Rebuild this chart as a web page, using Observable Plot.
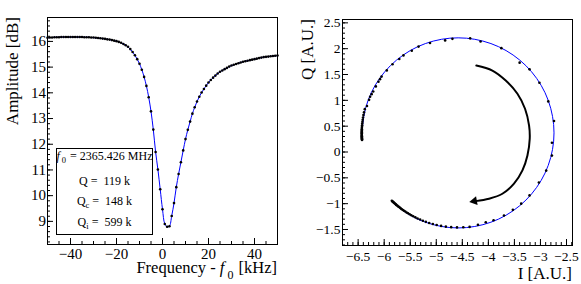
<!DOCTYPE html>
<html><head><meta charset="utf-8">
<script src="https://cdn.jsdelivr.net/npm/d3@7"></script>
<script src="https://cdn.jsdelivr.net/npm/@observablehq/plot@0.6"></script>
<style>
body{margin:0;background:#fff;}
#wrap{position:relative;width:581px;height:284px;display:flex;background:#fff;}
#wrap svg{display:block;}
</style></head><body><div id="wrap"></div>
<script>
// ---------- data ----------
const freq = [-50,-49,-48,-47,-46,-45,-44,-43,-42,-41,-40,-39,-38,-37,-36,-35,-34,-33,-32,-31,-30,-29,-28,-27,-26,-25,-24,-23,-22,-21,-20,-19,-18,-17,-16,-15,-14,-13,-12,-11,-10,-9,-8,-7,-6,-5,-4,-3,-2,-1,0,1,2,3,4,5,6,7,8,9,10,11,12,13,14,15,16,17,18,19,20,21,22,23,24,25,26,27,28,29,30,31,32,33,34,35,36,37,38,39,40,41,42,43,44,45,46,47,48,49,50];
const amplitude = [16.14,16.15,16.15,16.16,16.16,16.16,16.17,16.17,16.17,16.17,16.17,16.17,16.17,16.17,16.17,16.17,16.16,16.16,16.16,16.15,16.15,16.14,16.13,16.12,16.11,16.10,16.08,16.07,16.05,16.03,16.01,15.98,15.95,15.90,15.85,15.79,15.70,15.59,15.46,15.31,15.13,14.90,14.62,14.27,13.83,13.28,12.57,11.70,11.02,10.25,9.47,8.90,8.79,8.81,9.21,9.71,10.33,10.84,11.30,11.76,12.20,12.56,12.88,13.19,13.44,13.66,13.85,14.01,14.15,14.28,14.40,14.50,14.59,14.67,14.75,14.82,14.87,14.92,14.97,15.02,15.06,15.09,15.12,15.15,15.18,15.21,15.23,15.25,15.27,15.29,15.31,15.33,15.35,15.37,15.39,15.40,15.41,15.42,15.43,15.44,15.45];
const iqI = [-6.425,-6.426,-6.426,-6.427,-6.427,-6.428,-6.428,-6.429,-6.429,-6.430,-6.430,-6.430,-6.430,-6.430,-6.429,-6.429,-6.428,-6.426,-6.424,-6.421,-6.417,-6.412,-6.406,-6.398,-6.387,-6.372,-6.33,-6.29,-6.27,-6.24,-6.21,-6.16,-6.11,-6.08,-6.05,-5.95,-5.84,-5.71,-5.63,-5.47,-5.34,-5.12,-4.83,-4.69,-4.35,-4.15,-3.75,-3.40,-3.21,-3.02,-2.85,-2.74,-2.78,-2.78,-2.89,-3.03,-3.21,-3.37,-3.53,-3.70,-3.90,-4.05,-4.20,-4.36,-4.481,-4.602,-4.714,-4.816,-4.907,-4.992,-5.066,-5.136,-5.200,-5.257,-5.310,-5.359,-5.402,-5.442,-5.478,-5.511,-5.542,-5.569,-5.595,-5.619,-5.640,-5.661,-5.679,-5.696,-5.714,-5.729,-5.744,-5.759,-5.771,-5.783,-5.795,-5.807,-5.816,-5.826,-5.835,-5.844,-5.853];
const iqQ = [0.231,0.241,0.251,0.260,0.270,0.280,0.292,0.305,0.318,0.331,0.347,0.364,0.380,0.399,0.418,0.441,0.464,0.489,0.518,0.551,0.586,0.624,0.666,0.714,0.767,0.830,0.89,1.01,1.07,1.12,1.17,1.27,1.36,1.41,1.46,1.58,1.70,1.80,1.87,1.96,2.04,2.11,2.16,2.19,2.20,2.14,2.01,1.73,1.60,1.34,0.98,0.60,0.18,-0.07,-0.36,-0.59,-0.84,-1.00,-1.12,-1.23,-1.32,-1.36,-1.41,-1.45,-1.457,-1.460,-1.455,-1.445,-1.431,-1.413,-1.394,-1.373,-1.352,-1.330,-1.308,-1.286,-1.265,-1.244,-1.224,-1.205,-1.187,-1.170,-1.153,-1.136,-1.122,-1.107,-1.093,-1.080,-1.066,-1.054,-1.042,-1.030,-1.019,-1.009,-0.998,-0.988,-0.979,-0.970,-0.962,-0.953,-0.944];
// blue fit curve of the IQ circle
const fitI = [-6.415,-6.413,-6.357,-6.248,-6.087,-5.881,-5.635,-5.358,-5.056,-4.740,-4.420,-4.104,-3.802,-3.525,-3.279,-3.073,-2.912,-2.803,-2.747,-2.747,-2.803,-2.912,-3.073,-3.279,-3.525,-3.802,-4.104,-4.420,-4.740,-5.056,-5.358,-5.635,-5.860];
const fitQ = [0.232,0.530,0.846,1.148,1.425,1.671,1.877,2.038,2.147,2.203,2.203,2.147,2.038,1.877,1.671,1.425,1.148,0.846,0.530,0.210,-0.106,-0.408,-0.685,-0.931,-1.137,-1.298,-1.407,-1.463,-1.463,-1.407,-1.298,-1.137,-0.951];
const arrowI = [-4.231,-3.923,-3.667,-3.442,-3.296,-3.219,-3.206,-3.250,-3.346,-3.508,-3.731,-3.988,-4.244];
const arrowQ = [1.674,1.577,1.384,1.127,0.837,0.514,0.256,-0.067,-0.357,-0.614,-0.808,-0.904,-0.951];
const arrowHeadI = [-4.27];
const arrowHeadQ = [-0.952];
const freqTicks = [-40,-20,0,20,40];
const ampTicks = [9,10,11,12,13,14,15,16];
const iTicks = [-6.5,-6,-5.5,-5,-4.5,-4,-3.5,-3,-2.5];
const qTicks = [-1.5,-1,-0.5,0,0.5,1,1.5,2,2.5];
const fitLabels = [
  {sym:"f", sub:"0", italic:true, text:"= 2365.426 MHz"},
  {sym:"Q", sub:"", text:"=  119 k"},
  {sym:"Q", sub:"c", text:"=  148 k"},
  {sym:"Q", sub:"i", text:"=  599 k"}
];

// ---------- helpers ----------
const font = "'Liberation Serif','Times New Roman',serif";
const fmt = d => (d < 0 ? "\u2212" + Math.abs(d) : String(d));
function minor(a, b, step) { const o = []; for (let k = 0; a + k * step <= b + 1e-9; k++) o.push(+(a + k * step).toFixed(4)); return o; }
function addText(svg, x, y, size, anchor, rotate, parts) {
  const t = d3.select(svg).append("text")
    .attr("transform", `translate(${x},${y}) rotate(${rotate})`)
    .attr("text-anchor", anchor).attr("font-size", size).attr("font-family", font)
    .attr("fill", "black").style("white-space", "pre");
  for (const p of parts) {
    const ts = t.append("tspan").text(p.t);
    if (p.italic) ts.attr("font-style", "italic");
    if (p.size) ts.attr("font-size", p.size);
    if (p.dx) ts.attr("dx", p.dx);
    if (p.dy) ts.attr("dy", p.dy);
  }
  return t;
}

const wrap = document.getElementById("wrap");

// ---------- left panel ----------
const L = {w: 290, h: 284, ml: 47, mr: 13, mt: 17, mb: 40};
const Lih = L.h - L.mt - L.mb, Liw = L.w - L.ml - L.mr;
const ampData = freq.map((f, k) => ({f, a: amplitude[k]}));
const left = Plot.plot({
  width: L.w, height: L.h, marginLeft: L.ml, marginRight: L.mr, marginTop: L.mt, marginBottom: L.mb,
  style: {fontFamily: font, fontSize: "15px", background: "white", color: "black", overflow: "visible"},
  x: {domain: [-50, 50]},
  y: {domain: [8.1, 16.93]},
  marks: [
    Plot.tickX(minor(-50, 50, 5), {x: d => d, insetTop: Lih - 3, stroke: "black"}),
    Plot.tickX(freqTicks, {x: d => d, insetTop: Lih - 6, stroke: "black"}),
    Plot.tickY(minor(8.2, 16.8, 0.2), {y: d => d, insetRight: Liw - 3, stroke: "black"}),
    Plot.tickY(ampTicks, {y: d => d, insetRight: Liw - 6, stroke: "black"}),
    Plot.axisX({ticks: freqTicks, tickSize: 0, tickPadding: 4, tickFormat: fmt, label: null}),
    Plot.axisY({ticks: ampTicks, tickSize: 0, tickPadding: 1.5, tickFormat: fmt, label: null}),
    Plot.line(ampData, {x: "f", y: "a", stroke: "#0000ff", strokeWidth: 1, curve: "catmull-rom"}),
    Plot.dot(ampData, {x: "f", y: "a", r: 1.3, fill: "black"}),
    Plot.frame({stroke: "black"})
  ]
});
wrap.appendChild(left);
addText(left, 17.5, 17, 17, "end", -90, [{t: "Amplitude [dB]"}]);
addText(left, 277, 273, 16.5, "end", 0, [
  {t: "Frequency - "}, {t: "f", italic: true}, {t: "0", size: 12, dx: 3, dy: 6}, {t: " [kHz]", dy: -6, dx: 1}
]);
// fit result box
const box = {x: 56.5, y: 148.5, w: 96, h: 86};
d3.select(left).append("rect").attr("x", box.x).attr("y", box.y).attr("width", box.w).attr("height", box.h)
  .attr("fill", "white").attr("stroke", "black").attr("stroke-width", 1);
const baselines = [159.5, 184.5, 205, 225.5];
fitLabels.forEach((l, k) => {
  const parts = [{t: l.sym, italic: !!l.italic}];
  if (l.sub) parts.push({t: l.sub, size: 8.5, dx: l.italic ? 2 : 0, dy: 3});
  parts.push({t: " " + l.text, dy: l.sub ? -3 : 0, dx: l.italic ? 1 : 0});
  addText(left, box.x + box.w / 2, baselines[k], 12, "middle", 0, parts);
});

// ---------- right panel ----------
const R = {w: 291, h: 284, ml: 52, mr: 9, mt: 19, mb: 39};
const Rih = R.h - R.mt - R.mb, Riw = R.w - R.ml - R.mr;
const iqData = iqI.map((v, k) => ({i: v, q: iqQ[k]}));
const fitData = fitI.map((v, k) => ({i: v, q: fitQ[k]}));
const arrowData = arrowI.map((v, k) => ({i: v, q: arrowQ[k]}));
const headData = arrowHeadI.map((v, k) => ({i: v, q: arrowHeadQ[k]}));
const right = Plot.plot({
  width: R.w, height: R.h, marginLeft: R.ml, marginRight: R.mr, marginTop: R.mt, marginBottom: R.mb,
  style: {fontFamily: font, fontSize: "13.5px", background: "white", color: "black", overflow: "visible"},
  x: {domain: [-6.80, -2.385]},
  y: {domain: [-1.81, 2.565]},
  marks: [
    Plot.tickX(minor(-6.7, -2.4, 0.1), {x: d => d, insetTop: Rih - 3, stroke: "black"}),
    Plot.tickX(iTicks, {x: d => d, insetTop: Rih - 6, stroke: "black"}),
    Plot.tickY(minor(-1.8, 2.5, 0.1), {y: d => d, insetRight: Riw - 3, stroke: "black"}),
    Plot.tickY(qTicks, {y: d => d, insetRight: Riw - 6, stroke: "black"}),
    Plot.axisX({ticks: iTicks, tickSize: 0, tickPadding: 6, tickFormat: fmt, label: null}),
    Plot.axisY({ticks: qTicks, tickSize: 0, tickPadding: 2, tickFormat: fmt, label: null}),
    Plot.line(fitData, {x: "i", y: "q", stroke: "#0000ff", strokeWidth: 1, curve: "catmull-rom"}),
    Plot.dot(iqData, {x: "i", y: "q", r: 1.3, fill: "black"}),
    Plot.line(arrowData, {x: "i", y: "q", stroke: "black", strokeWidth: 2, curve: "catmull-rom"}),
    Plot.dot(headData, {x: "i", y: "q", symbol: "triangle", r: 3.3, fill: "black", rotate: 260}),
    Plot.frame({stroke: "black"})
  ]
});
wrap.appendChild(right);
addText(right, 23, 19, 17, "end", -90, [{t: "Q [A.U.]"}]);
addText(right, 282, 279, 17, "end", 0, [{t: "I [A.U.]"}]);
</script>
</body></html>
